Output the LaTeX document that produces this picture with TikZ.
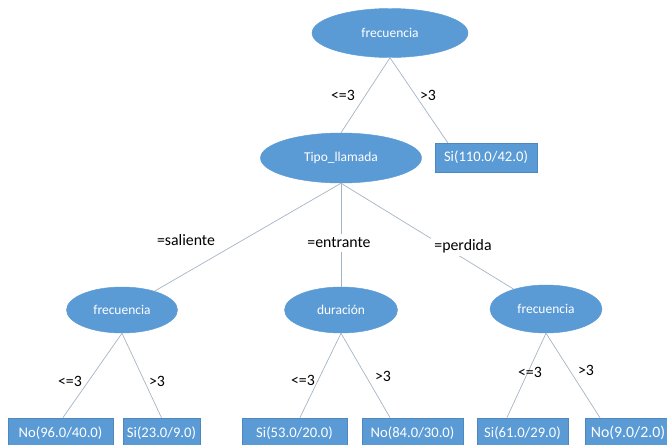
\documentclass[tikz,border=0pt]{standalone}
\usepackage{fontspec}
\setmainfont{Carlito}
\usetikzlibrary{shapes,positioning}
\definecolor{nodeblue}{RGB}{91,155,213}
\definecolor{nodeedge}{RGB}{80,135,190}
\definecolor{linegray}{RGB}{165,180,196}
\tikzset{
	split/.style = {
		draw=nodeblue,
		fill=nodeblue,
		ellipse,
		text=white,
		inner sep=0pt,
		font=\fontsize{11.5}{13}\selectfont
	},
	leaf/.style = {
		draw=nodeedge,
		fill=nodeblue,
		rectangle,
		text=white,
		inner sep=0pt,
		minimum height=0.9cm,
		font=\fontsize{12.5}{14}\selectfont
	},
	branch/.style = {
		draw=linegray,
		line width=0.6pt
	},
	cond/.style = {
		font=\fontsize{13.5}{15}\selectfont,
		inner sep=1pt
	},
	condcut/.style = {
		cond,
		fill=white,
		inner sep=3pt
	}
}

\begin{document}
\begin{tikzpicture}[x=0.03cm, y=-0.03cm]
	\useasboundingbox (0,0) rectangle (667,444);

	% --- Nodos de decision ---
	\node [split, minimum width=4.68cm, minimum height=1.47cm] (root) at (390,33) {frecuencia};
	\node [split, minimum width=4.83cm, minimum height=1.50cm] (tipo) at (341,158) {Tipo\_llamada};
	\node [split, minimum width=3.33cm, minimum height=1.38cm] (freqL) at (122,310) {frecuencia};
	\node [split, minimum width=3.39cm, minimum height=1.38cm] (dur) at (341,310) {duración};
	\node [split, minimum width=3.36cm, minimum height=1.44cm] (freqR) at (546,309) {frecuencia};

	% --- Hojas ---
	\node [leaf, minimum width=3.06cm, minimum height=0.87cm] (si110) at (486,157.5) {Si(110.0/42.0)};
	\node [leaf, minimum width=3.15cm] (no96) at (60.5,433) {No(96.0/40.0)};
	\node [leaf, minimum width=2.31cm] (si23) at (161.5,433) {Si(23.0/9.0)};
	\node [leaf, minimum width=3.15cm] (si53) at (294.5,433) {Si(53.0/20.0)};
	\node [leaf, minimum width=3.03cm] (no84) at (412.5,433) {No(84.0/30.0)};
	\node [leaf, minimum width=2.73cm] (si61) at (522.5,433) {Si(61.0/29.0)};
	\node [leaf, minimum width=2.58cm, font=\fontsize{13.5}{15}\selectfont] (no9) at (628,433) {No(9.0/2.0)};

	% --- Ramas ---
	\draw [branch] (root.south) -- (tipo.north);
	\draw [branch] (root.south) -- ([xshift=0.39cm]si110.north west);
	\draw [branch] (tipo.south) -- (freqL);
	\draw [branch] (tipo.south) -- (dur.north);
	\draw [branch] (tipo.south) -- (freqR);
	\draw [branch] (freqL.south) -- ([xshift=0.07cm]no96.north);
	\draw [branch] (freqL.south) -- (si23.north);
	\draw [branch] (dur.south) -- ([xshift=0.16cm]si53.north);
	\draw [branch] (dur.south) -- ([xshift=-0.67cm]no84.north);
	\draw [branch] (freqR.south) -- ([xshift=-0.47cm]si61.north);
	\draw [branch] (freqR.south) -- ([xshift=-0.84cm]no9.north);

	% --- Condiciones ---
	\node [cond] (c1) at (343,95) {<=3};
	\node [cond] (c2) at (428,95) {>3};
	\node [condcut] (c3) at (186,240) {=saliente};
	\node [condcut] (c4) at (339,243) {=entrante};
	\node [condcut] (c5) at (463,246) {=perdida};
	\node [cond] (c6) at (70,381) {<=3};
	\node [cond] (c7) at (157,381) {>3};
	\node [cond] (c8) at (303,380) {<=3};
	\node [cond] (c9) at (383,376) {>3};
	\node [cond] (c10) at (530,372) {<=3};
	\node [cond] (c11) at (586,370) {>3};

\end{tikzpicture}
\end{document}
